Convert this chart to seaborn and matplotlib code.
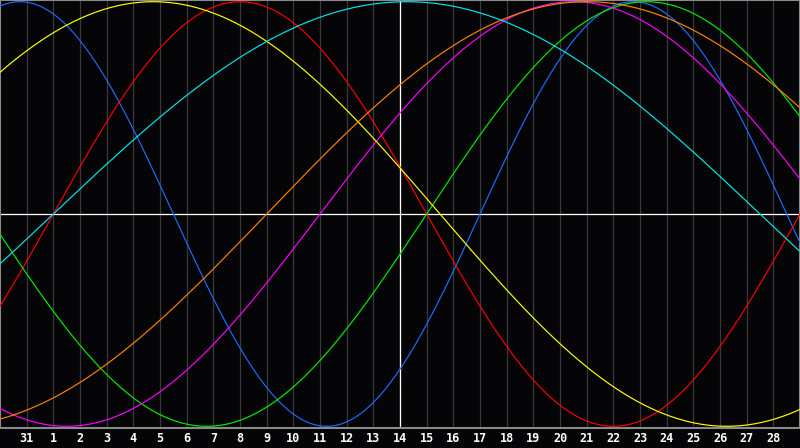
import numpy as np
import pandas as pd
import matplotlib
matplotlib.use("Agg")
import matplotlib.pyplot as plt
import seaborn as sns

# ---- data ----
day_labels = ["31"] + [str(d) for d in range(1, 29)]   # labels at grid positions 1..29
label_positions = list(range(1, 30))
cycle_names = ["Physical", "Emotional", "Intellectual", "Intuitive",
               "Aesthetic", "Awareness", "Spiritual"]
cycle_periods = [23, 28, 33, 38, 43, 48, 53]
cycle_colors = ["#1a6cff", "#ff0000", "#00ee00", "#ff00ff",
                "#ffff00", "#ff8000", "#00e8e8"]
days_since_birth_at_left = 20774   # age in days at left edge (day 30)
n_days = 30

sns.set_theme(style="dark")
plt.rcParams['font.family'] = ['DejaVu Sans Mono', 'DejaVu Sans']

k = np.linspace(0, n_days, 1201)
frames = []
for name, per in zip(cycle_names, cycle_periods):
    frames.append(pd.DataFrame({
        "k": k,
        "value": np.sin(2 * np.pi * (days_since_birth_at_left + k) / per),
        "cycle": name,
    }))
df = pd.concat(frames, ignore_index=True)

fig = plt.figure(figsize=(8, 4.48), dpi=100, facecolor="#050508")
ax = fig.add_axes([0, 20 / 448, 1, 428 / 448])
ax.set_facecolor("#050508")

for x in label_positions:
    ax.axvline(x, color="#3a3a3e", lw=0.9, zorder=1)
ax.axvline(15, color="#ffffff", lw=0.9, zorder=2)
ax.axhline(0, color="#ffffff", lw=0.9, zorder=2)

sns.lineplot(data=df, x="k", y="value", hue="cycle", hue_order=cycle_names,
             palette=dict(zip(cycle_names, cycle_colors)), legend=False,
             linewidth=0.85, ax=ax, zorder=3)

ax.set_xlim(0, n_days)
ax.set_ylim(-1.008, 1.008)
ax.set_xlabel("")
ax.set_ylabel("")
ax.set_yticks([])
ax.set_xticks(label_positions)
ax.set_xticklabels(day_labels, color="white", fontweight="bold", fontsize=8.5)
ax.tick_params(axis="x", length=0, pad=3)
ax.grid(False)
for s in ax.spines.values():
    s.set_color("#8a8a8a")
    s.set_linewidth(1.5)
    s.set_visible(True)

fig.savefig("out.png", dpi=100, facecolor=fig.get_facecolor())
